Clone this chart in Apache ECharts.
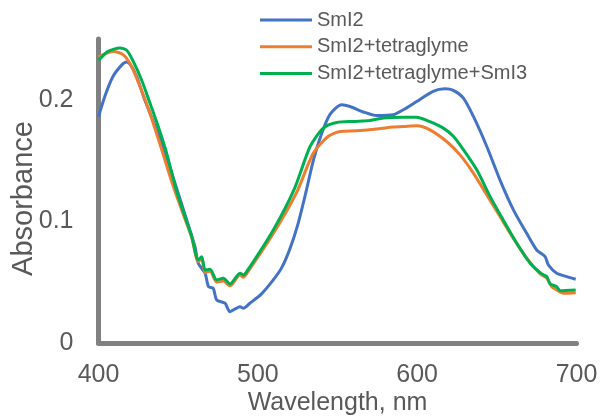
<!DOCTYPE html>
<html>
<head>
<meta charset="utf-8">
<script src="https://cdn.jsdelivr.net/npm/echarts@6/dist/echarts.min.js"></script>
<style>html,body{margin:0;padding:0;background:#fff;}#c{width:602px;height:418px;}</style>
</head>
<body>
<div id="c"></div>
<script>
var seriesNames = ['SmI2', 'SmI2+tetraglyme', 'SmI2+tetraglyme+SmI3'];
var xTicks = [400, 500, 600, 700];
var yTicks = [0, 0.1, 0.2];

var wlSmI2 = [400, 404, 409, 414.5, 417.5, 420, 424, 429, 439.7, 448, 455.4, 460.6, 462.6, 466.9, 469, 472, 474.2, 479.4, 482.5, 488.8, 490.9, 495, 502, 509.7, 515, 520, 525, 530, 535, 540, 545.3, 552.6, 557.9, 566.2, 574.6, 585, 591.3, 599.7, 610, 617.5, 622.7, 629, 635.3, 643.7, 652, 660.4, 668.8, 675, 680.3, 682.4, 687.6, 693.9, 699.5];
var absSmI2 = [0.186, 0.203, 0.219, 0.2285, 0.231, 0.229, 0.219, 0.200, 0.1644, 0.1314, 0.101, 0.079, 0.0656, 0.0574, 0.0464, 0.045, 0.0354, 0.0327, 0.0258, 0.0299, 0.0286, 0.0327, 0.040, 0.0519, 0.062, 0.077, 0.097, 0.123, 0.151, 0.172, 0.188, 0.196, 0.1945, 0.190, 0.187, 0.1877, 0.1918, 0.1986, 0.207, 0.209, 0.2077, 0.2014, 0.1863, 0.1616, 0.134, 0.1095, 0.090, 0.0765, 0.071, 0.064, 0.0574, 0.0546, 0.0524];

var wlTetra = [400, 409.3, 415.6, 420.8, 426, 432.3, 439.7, 447, 454, 458.5, 462.6, 464.8, 466.9, 470, 474.2, 478.3, 482.5, 488.8, 490.9, 493, 509.7, 524.4, 534.8, 544.2, 551.6, 562, 574.6, 583, 591.3, 599.7, 608, 618.5, 626.9, 635.3, 643.7, 652, 660.4, 668.8, 677.2, 681.4, 684.5, 687.6, 691.8, 699.5];
var absTetra = [0.2356, 0.2398, 0.237, 0.2274, 0.211, 0.189, 0.1588, 0.1286, 0.103, 0.087, 0.067, 0.069, 0.058, 0.059, 0.050, 0.051, 0.047, 0.056, 0.054, 0.057, 0.090, 0.124, 0.156, 0.170, 0.174, 0.1745, 0.1759, 0.1775, 0.178, 0.1786, 0.1753, 0.1657, 0.1547, 0.1397, 0.1218, 0.104, 0.086, 0.0697, 0.0568, 0.0532, 0.0463, 0.0436, 0.0409, 0.0414];

var wlTetraSmI3 = [400, 406, 413.5, 417.7, 421.8, 427, 432.3, 437.5, 442.8, 449, 454.3, 458.5, 462.6, 464.8, 466.9, 470, 474.2, 478.3, 482.5, 488.8, 490.9, 493, 509.7, 523, 532.8, 541.1, 549.5, 560, 570.4, 578.8, 591.3, 599.7, 608, 616.4, 622.7, 629, 637.4, 645.8, 654.1, 662.5, 670.9, 678.2, 681.4, 683.4, 687.6, 689.7, 699.5];
var absTetraSmI3 = [0.2323, 0.2398, 0.2426, 0.2407, 0.2316, 0.2165, 0.1973, 0.178, 0.156, 0.125, 0.104, 0.0875, 0.0683, 0.071, 0.060, 0.0606, 0.0519, 0.0532, 0.0486, 0.0574, 0.056, 0.0587, 0.093, 0.127, 0.1616, 0.1767, 0.1813, 0.1822, 0.183, 0.185, 0.1857, 0.1857, 0.182, 0.1767, 0.170, 0.159, 0.1424, 0.1204, 0.101, 0.082, 0.0656, 0.0568, 0.0546, 0.0486, 0.0463, 0.043, 0.0436];

var colors = ['#4472C4', '#ED7D31', '#00B050'];
function zip(xs, ys) { return xs.map(function (x, i) { return [x, ys[i]]; }); }
var allData = [zip(wlSmI2, absSmI2), zip(wlTetra, absTetra), zip(wlTetraSmI3, absTetraSmI3)];

var FONT = '"Liberation Sans", Arial, sans-serif';
var chart = echarts.init(document.getElementById('c'), null, {renderer: 'canvas'});
chart.setOption({
  animation: false,
  backgroundColor: '#ffffff',
  grid: {left: 98.5, right: 25.5, top: 39, bottom: 75, containLabel: false},
  legend: {
    orient: 'vertical', left: 260, top: 10, padding: 0,
    icon: 'rect', itemWidth: 52, itemHeight: 3, itemGap: 6.7,
    data: seriesNames,
    textStyle: {fontFamily: FONT, fontSize: 20, color: '#595959'}
  },
  xAxis: {
    type: 'value', min: xTicks[0], max: xTicks[xTicks.length - 1], interval: 100,
    axisLine: {show: true, lineStyle: {color: '#808080', width: 5}},
    axisTick: {show: false}, splitLine: {show: false},
    axisLabel: {margin: 20, fontFamily: FONT, fontSize: 25, color: '#595959',
      formatter: function (v) { return xTicks.indexOf(v) >= 0 ? String(v) : ''; }}
  },
  yAxis: {
    type: 'value', min: 0, max: 0.25, interval: 0.1,
    axisLine: {show: true, lineStyle: {color: '#808080', width: 5}},
    axisTick: {show: false}, splitLine: {show: false},
    axisLabel: {margin: 25, fontFamily: FONT, fontSize: 25, color: '#595959',
      formatter: function (v) {
        for (var i = 0; i < yTicks.length; i++) { if (Math.abs(v - yTicks[i]) < 1e-9) return String(yTicks[i]); }
        return '';
      }}
  },
  graphic: [
    {type: 'text', x: 337.5, y: 403, style: {text: 'Wavelength, nm', font: '25px ' + FONT, fill: '#595959', textAlign: 'center', textVerticalAlign: 'middle'}},
    {type: 'text', x: 23.5, y: 198.5, rotation: Math.PI / 2, style: {text: 'Absorbance', font: '29px ' + FONT, fill: '#595959', textAlign: 'center', textVerticalAlign: 'middle'}}
  ],
  series: seriesNames.map(function (name, i) {
    return {
      name: name, type: 'line', data: allData[i], symbol: 'none', smooth: 0.25,
      lineStyle: {color: colors[i], width: 3}, itemStyle: {color: colors[i]}, z: 2 + i
    };
  })
});
</script>
</body>
</html>
